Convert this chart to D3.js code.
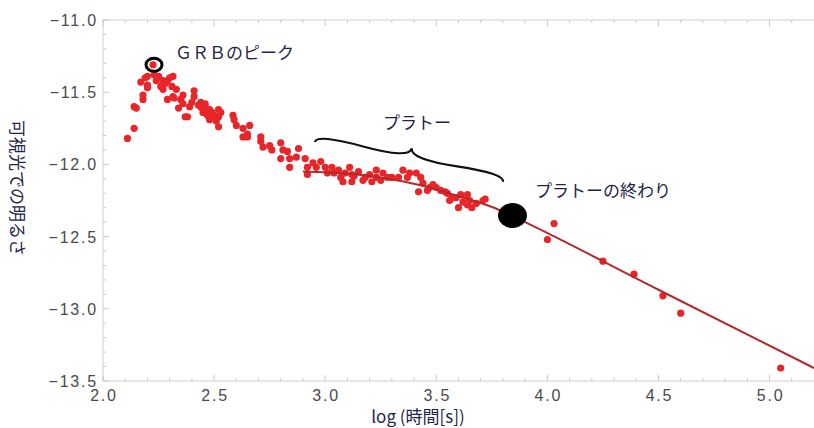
<!DOCTYPE html>
<meta charset="utf-8">
<style>
body { margin: 0; background: #fff; }
.frame { stroke: #cfcfcf; stroke-width: 1; fill: none; }
.tick line { stroke: #c8c8c8; }
.ticklab { font: 16px "Liberation Sans", Arial, sans-serif; fill: #4a4a4a; letter-spacing: 1.8px; }
.jp { font-family: "Noto Sans CJK JP", sans-serif; fill: #1f2548; }
.dot { fill: #e8262a; }
.fit { fill: none; stroke: #b22a2a; stroke-width: 2; }
</style>
<svg width="814" height="428"></svg>
<script src="https://d3js.org/d3.v7.min.js"></script>
<script>
// observations: [log t, brightness]
var points = [
  [2.11,-11.82],[2.14,-11.75],[2.14,-11.60],[2.15,-11.61],[2.18,-11.55],[2.18,-11.52],
  [2.17,-11.43],[2.20,-11.45],[2.20,-11.47],[2.225,-11.31],[2.20,-11.39],[2.23,-11.38],
  [2.25,-11.39],[2.27,-11.42],[2.26,-11.46],[2.27,-11.48],[2.29,-11.42],[2.30,-11.40],
  [2.315,-11.39],[2.29,-11.55],[2.315,-11.53],[2.35,-11.55],[2.36,-11.52],[2.37,-11.67],
  [2.38,-11.67],[2.41,-11.49],[2.41,-11.53],[2.40,-11.57],[2.44,-11.57],[2.44,-11.60],
  [2.45,-11.62],[2.46,-11.60],[2.47,-11.64],[2.47,-11.66],[2.48,-11.69],[2.52,-11.62],
  [2.52,-11.67],[2.52,-11.74],[2.49,-11.64],[2.43,-11.59],[2.45,-11.64],[2.46,-11.58],
  [2.48,-11.62],[2.50,-11.66],[2.51,-11.70],[2.53,-11.64],[2.39,-11.60],[2.36,-11.58],
  [2.33,-11.48],[2.31,-11.46],[2.28,-11.44],[2.24,-11.42],[2.19,-11.40],[2.34,-11.61],
  [2.32,-11.54],[2.585,-11.66],[2.59,-11.69],[2.60,-11.73],[2.63,-11.75],[2.63,-11.81],
  [2.65,-11.79],[2.66,-11.73],[2.65,-11.81],[2.71,-11.81],[2.71,-11.84],[2.72,-11.88],
  [2.75,-11.87],[2.76,-11.90],[2.80,-11.85],[2.81,-11.90],[2.80,-11.96],[2.83,-11.91],
  [2.84,-11.96],[2.84,-12.02],[2.88,-11.89],[2.87,-11.95],[2.91,-11.96],[2.92,-12.02],
  [2.92,-12.07],[2.945,-11.99],[2.96,-12.02],[2.98,-11.98],[3.00,-12.02],[3.01,-12.06],
  [3.03,-12.02],[3.04,-12.06],[3.06,-12.04],[3.07,-12.09],[3.08,-12.12],[3.09,-12.06],
  [3.11,-12.02],[3.12,-12.07],[3.12,-12.12],[3.13,-12.08],[3.15,-12.05],[3.17,-12.11],
  [3.18,-12.09],[3.20,-12.07],[3.21,-12.12],[3.23,-12.04],[3.23,-12.09],[3.25,-12.11],
  [3.26,-12.06],[3.28,-12.09],[3.30,-12.09],[3.33,-12.09],[3.35,-12.04],[3.37,-12.09],
  [3.38,-12.06],[3.41,-12.06],[3.42,-12.19],[3.43,-12.09],[3.44,-12.13],[3.46,-12.18],
  [3.47,-12.16],[3.485,-12.14],[3.50,-12.16],[3.52,-12.18],[3.54,-12.19],[3.55,-12.20],
  [3.56,-12.25],[3.57,-12.23],[3.59,-12.23],[3.60,-12.30],[3.61,-12.21],[3.62,-12.26],
  [3.64,-12.21],[3.64,-12.28],[3.65,-12.25],[3.66,-12.30],[3.68,-12.27],[3.71,-12.25],
  [3.72,-12.24],[4.03,-12.41],[4.00,-12.52],[4.25,-12.67],[4.39,-12.76],[4.52,-12.91],
  [4.60,-13.03],[5.05,-13.41]
];
// fitted curve knots
var fit = [
  [2.90,-12.05],[3.10,-12.065],[3.25,-12.09],[3.43,-12.145],[3.61,-12.225],
  [3.76,-12.30],[3.845,-12.36],[4.5,-12.868],[5.2,-13.41]
];
var xTicks = [2.0, 2.5, 3.0, 3.5, 4.0, 4.5, 5.0];
var yTicks = [-11.0, -11.5, -12.0, -12.5, -13.0, -13.5];
var peak = [2.225, -11.31];
var plateauEnd = [3.843, -12.354];
var braceFrom = [3.80, -12.12], braceTo = [2.954, -11.845];

var svg = d3.select("svg");
var x = d3.scaleLinear().domain([2.0, 5.2]).range([103, 814]);
var y = d3.scaleLinear().domain([-11.0, -13.5]).range([20, 381]);
var fmt = function(v) { return d3.format(".1f")(v).replace("-", "\u2212"); };

// frame
svg.append("path").attr("class", "frame")
  .attr("d", "M" + x.range()[1] + "," + y(-11) + "H" + x(2) + "V" + y(-13.5) + "H" + x.range()[1]);

// minor + major ticks, drawn inward
var xMinor = d3.range(20, 52).map(function(d) { return d / 10; });
var yMinor = d3.range(110, 136).map(function(d) { return -d / 10; });
var tk = svg.append("g").attr("class", "tick");
xMinor.forEach(function(v) {
  var len = xTicks.some(function(t) { return Math.abs(t - v) < 1e-6; }) ? 6 : 3;
  tk.append("line").attr("x1", x(v)).attr("x2", x(v)).attr("y1", y(-13.5)).attr("y2", y(-13.5) - len);
  tk.append("line").attr("x1", x(v)).attr("x2", x(v)).attr("y1", y(-11)).attr("y2", y(-11) + len);
});
yMinor.forEach(function(v) {
  var len = yTicks.some(function(t) { return Math.abs(t - v) < 1e-6; }) ? 6 : 3;
  tk.append("line").attr("x1", x(2)).attr("x2", x(2) + len).attr("y1", y(v)).attr("y2", y(v));
});

svg.selectAll(".xl").data(xTicks).enter().append("text")
  .attr("class", "ticklab").attr("text-anchor", "middle")
  .attr("x", function(d) { return x(d) + 1; }).attr("y", 401).text(fmt);
svg.selectAll(".yl").data(yTicks).enter().append("text")
  .attr("class", "ticklab").attr("text-anchor", "end")
  .attr("x", 98).attr("y", function(d) { return y(d) + 6; }).text(fmt);

// axis titles
svg.append("text").attr("class", "jp").attr("text-anchor", "middle")
  .attr("x", 418).attr("y", 423).style("font-size", "17px").text("log (時間[s])");
svg.append("text").attr("class", "jp").attr("text-anchor", "middle")
  .attr("transform", "translate(11,188) rotate(90)").style("font-size", "17px")
  .text("可視光での明るさ");

// data
svg.append("g").selectAll("circle").data(points).enter().append("circle")
  .attr("class", "dot").attr("r", 3.6)
  .attr("cx", function(d) { return x(d[0]); }).attr("cy", function(d) { return y(d[1]); });

svg.append("path").datum(fit).attr("class", "fit")
  .attr("d", d3.line().curve(d3.curveMonotoneX)
    .x(function(d) { return x(d[0]); }).y(function(d) { return y(d[1]); }));

// annotations
svg.append("ellipse").attr("cx", x(peak[0]) + 1).attr("cy", y(peak[1]))
  .attr("rx", 8).attr("ry", 6.5).attr("fill", "none").attr("stroke", "#000").attr("stroke-width", 3);
svg.append("ellipse").attr("cx", x(plateauEnd[0])).attr("cy", y(plateauEnd[1]))
  .attr("rx", 14.5).attr("ry", 12.5).attr("fill", "#000");

function bracePath(x1, y1, x2, y2, w, q) {
  var dx = x1 - x2, dy = y1 - y2, len = Math.sqrt(dx * dx + dy * dy);
  dx /= len; dy /= len;
  var qx1 = x1 + q * w * dy, qy1 = y1 - q * w * dx;
  var qx2 = (x1 - .25 * len * dx) + (1 - q) * w * dy, qy2 = (y1 - .25 * len * dy) - (1 - q) * w * dx;
  var tx1 = (x1 - .5 * len * dx) + w * dy, ty1 = (y1 - .5 * len * dy) - w * dx;
  var qx3 = x2 + q * w * dy, qy3 = y2 - q * w * dx;
  var qx4 = (x1 - .75 * len * dx) + (1 - q) * w * dy, qy4 = (y1 - .75 * len * dy) - (1 - q) * w * dx;
  return "M" + x1 + "," + y1 + "Q" + qx1 + "," + qy1 + " " + qx2 + "," + qy2 + "T" + tx1 + "," + ty1 +
    "M" + x2 + "," + y2 + "Q" + qx3 + "," + qy3 + " " + qx4 + "," + qy4 + "T" + tx1 + "," + ty1;
}
svg.append("path")
  .attr("d", bracePath(x(braceFrom[0]), y(braceFrom[1]), x(braceTo[0]), y(braceTo[1]), 14, 0.6))
  .attr("fill", "none").attr("stroke", "#111").attr("stroke-width", 2.2);

svg.append("text").attr("class", "jp").attr("x", 175).attr("y", 59)
  .style("font-size", "17px").text("ＧＲＢのピーク");
svg.append("text").attr("class", "jp").attr("x", 383).attr("y", 129)
  .style("font-size", "17px").text("プラトー");
svg.append("text").attr("class", "jp").attr("x", 535).attr("y", 197)
  .style("font-size", "17px").text("プラトーの終わり");
</script>
